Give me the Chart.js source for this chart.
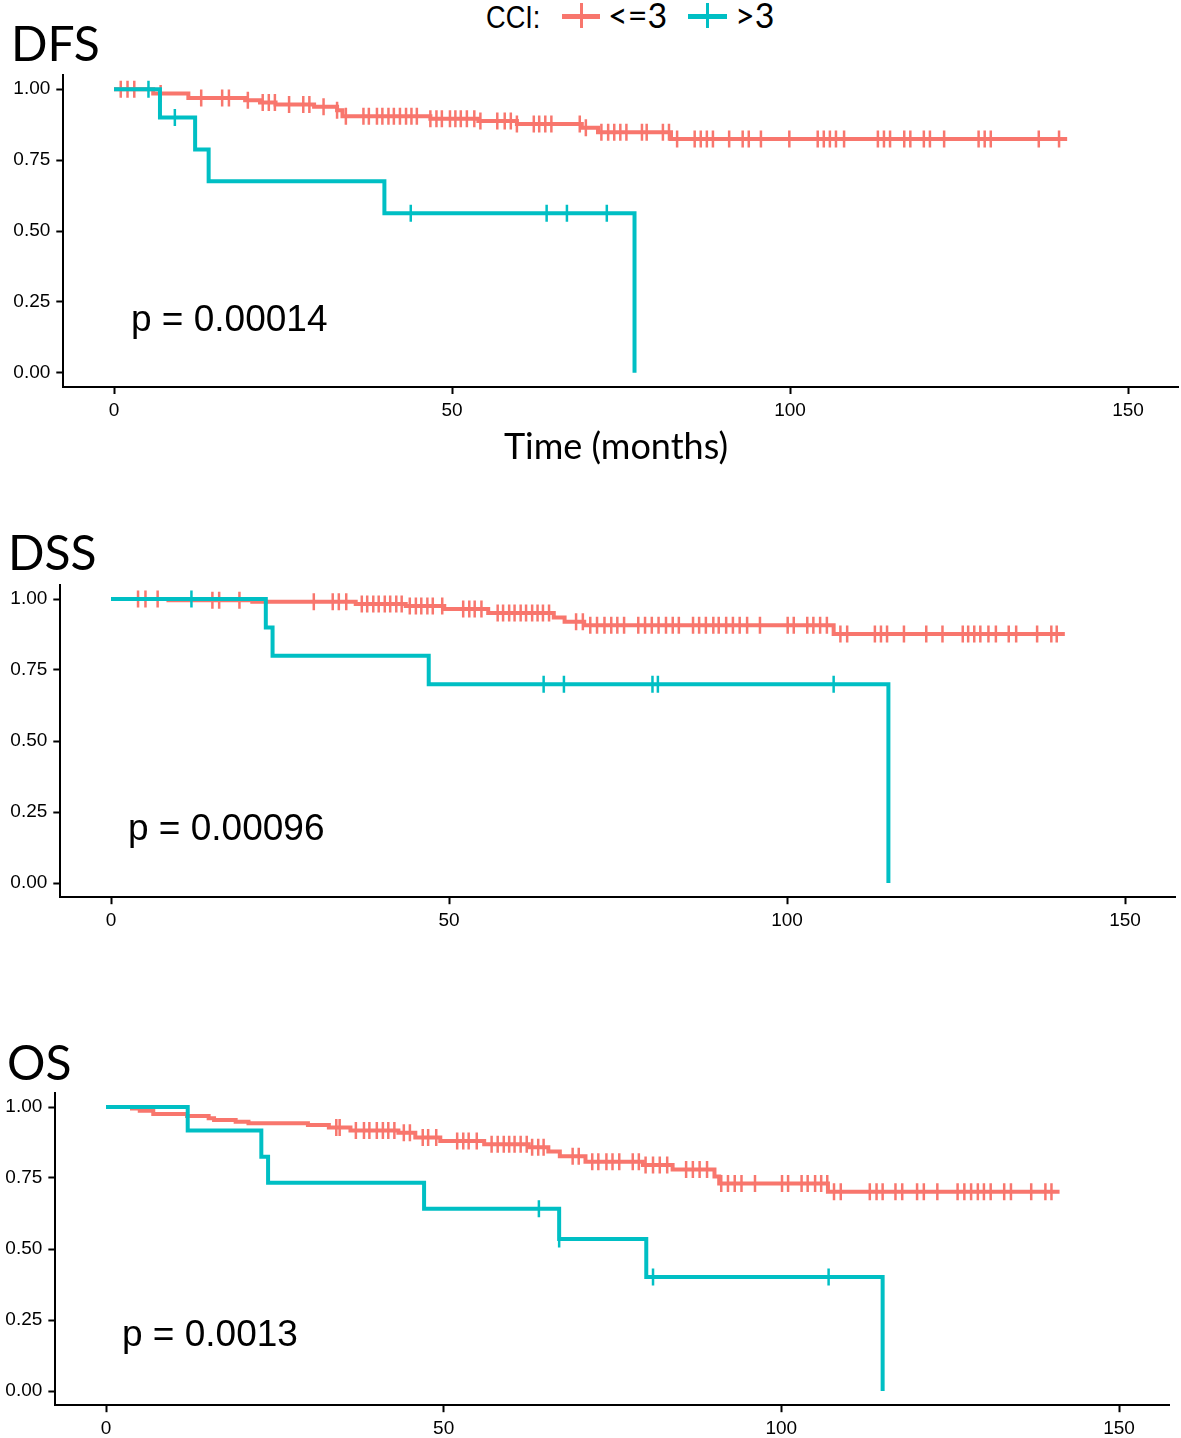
<!DOCTYPE html>
<html>
<head>
<meta charset="utf-8">
<title>DFS / DSS / OS by CCI</title>
<script src="https://cdn.jsdelivr.net/npm/chart.js@4.4.1/dist/chart.umd.min.js"></script>
<style>
  html, body { margin: 0; padding: 0; background: #fff; }
  #page { position: relative; width: 1181px; height: 1438px; overflow: hidden; background: #fff; }
  #page canvas { position: absolute; left: 0; }
  .lbl { position: absolute; white-space: nowrap; line-height: 1; color: #000; }
  .panel-title { font-family: Lato, sans-serif; font-size: 48px; }
  .pval { font-family: 'Liberation Sans', Arial, sans-serif; font-size: 37px; }
  .xtitle { font-family: Lato, sans-serif; font-size: 36px; width: 400px; text-align: center; }
  .leg-head { font-family: 'Liberation Sans', Arial, sans-serif; font-size: 32px; transform: scaleX(0.85); transform-origin: left top; }
  .leg-text { font-family: Lato, sans-serif; font-size: 34px; }
  .key { position: absolute; }
</style>
</head>
<body>
<div id="page">
  <canvas id="dfs-chart"></canvas>
  <canvas id="dss-chart"></canvas>
  <canvas id="os-chart"></canvas>

  <!-- legend -->
  <div class="lbl leg-head" style="left:486px; top:1px;">CCI:</div>
  <div class="key" style="left:562px; top:14px; width:38px; height:4.5px; background:#F8766D;"></div>
  <div class="key" style="left:580px; top:3px; width:2.5px; height:25px; background:#F8766D;"></div>
  <div class="lbl leg-text" style="left:608px; top:-2px;">&lt;=3</div>
  <div class="key" style="left:688px; top:14px; width:39px; height:4.5px; background:#00BFC4;"></div>
  <div class="key" style="left:706px; top:3px; width:2.5px; height:25px; background:#00BFC4;"></div>
  <div class="lbl leg-text" style="left:735px; top:-2px;">&gt;3</div>

  <!-- panel titles, p-values, axis title -->
  <div class="lbl panel-title" style="left:11px; top:19px;">DFS</div>
  <div class="lbl panel-title" style="left:8px; top:528px;">DSS</div>
  <div class="lbl panel-title" style="left:7px; top:1038px;">OS</div>
  <div class="lbl pval" style="left:131px; top:300px;">p = 0.00014</div>
  <div class="lbl pval" style="left:128px; top:809px;">p = 0.00096</div>
  <div class="lbl pval" style="left:122px; top:1315px;">p = 0.0013</div>
  <div class="lbl xtitle" style="left:416px; top:427px;">Time (months)</div>
</div>

<script>
// ----------------------
// Data
// ----------------------
const xTickValues = [0, 50, 100, 150];
const yTickValues = [0, 0.25, 0.5, 0.75, 1];
const groupNames = ['<=3', '>3'];

// DFS, CCI <= 3
const dfsLowTime = [0, 5.8, 11, 19.4, 21.6, 23.9, 29.6, 33, 33.8, 46.8, 53.9, 59.6, 69.2, 71.6, 82.4, 141];
const dfsLowSurv = [1, 0.985, 0.969, 0.961, 0.953, 0.946, 0.938, 0.926, 0.905, 0.896, 0.888, 0.877, 0.864, 0.848, 0.824, 0.824];
const dfsLowCensor = [1, 2, 3, 6.9, 12.9, 16, 17, 19.8, 22, 22.9, 23.8, 25.9, 28, 28.9, 31, 33, 34.3, 36.9, 37.7, 38.9,
    39.7, 40.6, 41.4, 42.3, 43.2, 44.0, 44.8, 46.8, 47.7, 48.5, 49.7, 50.5, 51.3, 52.2, 53.3, 54.2, 56.7, 57.8, 58.7,
    59.6, 62.1, 62.9, 63.8, 64.7, 68.9, 69.8, 72.1, 73.1, 74.0, 74.9, 75.8, 78.1, 78.8, 81.2, 82.1, 83.3, 85.9, 86.8,
    87.7, 88.6, 91.0, 93.0, 93.9, 95.7, 99.9, 104.1, 105.0, 105.9, 106.8, 108.0, 113.0, 113.9, 114.8, 116.9, 117.8,
    119.8, 120.7, 122.8, 127.9, 128.8, 129.7, 136.8, 139.8];
// DFS, CCI > 3
const dfsHighTime = [0, 6.8, 12, 14, 40, 77];
const dfsHighSurv = [1, 0.9, 0.7875, 0.675, 0.5625, 0];
const dfsHighCensor = [5.1, 9, 43.9, 64.0, 67.0, 72.9];

// DSS, CCI <= 3
const dssLowTime = [0, 8.5, 20.9, 36.2, 43.6, 49.3, 55.8, 65.5, 67.1, 70, 106.9, 141.1];
const dssLowSurv = [1, 0.996, 0.99, 0.982, 0.975, 0.965, 0.951, 0.935, 0.92, 0.908, 0.877, 0.877];
const dssLowCensor = [4.0, 5.1, 6.9, 15.0, 16.0, 19.0, 30.0, 32.8, 33.7, 34.8, 37.1, 37.9, 38.8, 39.6, 40.5, 41.3, 42.2,
    43.0, 44.2, 45.1, 45.9, 46.8, 47.6, 49.0, 52.1, 53.0, 53.8, 54.8, 57.2, 58.0, 58.9, 59.7, 60.6, 61.4, 62.3, 63.1,
    63.9, 64.8, 68.8, 69.8, 70.9, 71.9, 73.0, 74.0, 74.9, 75.9, 78.0, 79.0, 80.0, 81.0, 82.1, 83.1, 84.0, 86.1, 87.0,
    88.0, 89.1, 89.9, 91.0, 92.0, 93.0, 94.1, 96.0, 100.1, 101.0, 103.0, 103.9, 104.9, 105.9, 107.9, 108.9, 113.0,
    113.9, 114.8, 117.3, 120.6, 123.0, 126.0, 126.8, 127.7, 128.6, 129.8, 130.9, 132.8, 133.9, 137.0, 139.1, 139.9];
// DSS, CCI > 3
const dssHighTime = [0, 22.9, 23.9, 47, 115];
const dssHighSurv = [1, 0.9, 0.8, 0.7, 0];
const dssHighCensor = [11.9, 64.0, 67.0, 80.1, 80.9, 106.9];

// OS, CCI <= 3
const osLowTime = [0, 3.85, 5, 7, 12, 15.2, 16, 19.2, 21.1, 29.9, 33, 36.2, 43.3, 45.8, 49.5, 56, 62.6, 65.5, 67.2,
    71.0, 79.5, 83.9, 90.1, 90.8, 106.9, 141.2];
const osLowSurv = [1, 0.995, 0.987, 0.975, 0.968, 0.96, 0.954, 0.948, 0.943, 0.937, 0.928, 0.917, 0.909, 0.893, 0.88,
    0.869, 0.858, 0.843, 0.827, 0.807, 0.796, 0.78, 0.755, 0.731, 0.702, 0.702];
const osLowCensor = [34.1, 34.6, 37.0, 38.2, 39.0, 40.1, 41.0, 41.8, 42.7, 44.1, 45.0, 46.9, 47.7, 48.9, 52.0, 52.9,
    53.7, 54.9, 57.1, 58.0, 58.9, 59.7, 60.5, 61.4, 62.3, 63.1, 64.0, 64.8, 69.1, 70.0, 72.0, 72.9, 74.1, 75.0, 76.0,
    78.0, 78.9, 79.9, 81.0, 82.0, 83.1, 85.9, 86.9, 87.9, 89.0, 91.1, 92.1, 93.1, 94.1, 96.1, 100.1, 101.0, 103.0,
    103.9, 105.0, 105.9, 106.8, 107.8, 108.8, 113.1, 114.1, 115.0, 116.9, 117.9, 120.1, 121.1, 123.1, 126.1, 127.1,
    128.1, 129.1, 130.0, 131.0, 133.0, 134.0, 137.0, 139.1, 140.0];
// OS, CCI > 3
const osHighTime = [0, 12.1, 23, 24, 47.1, 67.1, 80, 115];
const osHighSurv = [1, 0.917, 0.825, 0.733, 0.642, 0.535, 0.401, 0];
const osHighCensor = [64.1, 67.1, 81.0, 107.0];

// ----------------------
// Styling / layout
// ----------------------
const colors = ['#F8766D', '#00BFC4'];
const tickFont = { family: "'Liberation Sans', Arial, sans-serif", size: 19 };

// where each plot area sits on the page
const panels = [
    { id: 'dfs-chart', top: 60, height: 372, padTop: 15, areaH: 312, areaL: 63.3, areaR: 1178.7,
      low: [dfsLowTime, dfsLowSurv, dfsLowCensor], high: [dfsHighTime, dfsHighSurv, dfsHighCensor] },
    { id: 'dss-chart', top: 570, height: 372, padTop: 14.8, areaH: 312.4, areaL: 60.3, areaR: 1175.7,
      low: [dssLowTime, dssLowSurv, dssLowCensor], high: [dssHighTime, dssHighSurv, dssHighCensor] },
    { id: 'os-chart', top: 1078, height: 360, padTop: 14.8, areaH: 312.4, areaL: 55.35, areaR: 1169.65,
      low: [osLowTime, osLowSurv, osLowCensor], high: [osHighTime, osHighSurv, osHighCensor] }
];

// survival value at time t (step function)
function survAt(times, surv, t) {
    let s = surv[0];
    for (let i = 0; i < times.length; i++) {
        if (times[i] <= t) s = surv[i];
    }
    return s;
}

function curveDatasets([times, surv, censor], color, label, order) {
    return [
        {
            label: label,
            data: times.map((t, i) => ({ x: t, y: surv[i] })),
            borderColor: color,
            borderWidth: 4,
            stepped: true,
            pointRadius: 0,
            fill: false,
            order: order
        },
        {
            label: label + ' censored',
            data: censor.map(t => ({ x: t, y: survAt(times, surv, t) })),
            showLine: false,
            pointStyle: 'line',
            pointRotation: 90,
            pointRadius: 8.5,
            pointBorderWidth: 2.5,
            pointBorderColor: color,
            borderColor: color,
            order: order
        }
    ];
}

// ----------------------
// Chart rendering
// ----------------------
function buildPanel(p) {
    const canvas = document.getElementById(p.id);
    canvas.width = 1181;
    canvas.height = p.height;
    canvas.style.top = p.top + 'px';

    new Chart(canvas.getContext('2d'), {
        type: 'line',
        data: {
            datasets: [
                ...curveDatasets(p.high, colors[1], groupNames[1], 0), // teal drawn on top
                ...curveDatasets(p.low, colors[0], groupNames[0], 1)
            ]
        },
        options: {
            responsive: false,
            animation: false,
            events: [],
            layout: {
                autoPadding: false, // otherwise the censor marks push the plot edge in
                padding: { top: p.padTop, right: 1181 - p.areaR, left: 0, bottom: 0 }
            },
            plugins: { legend: { display: false }, tooltip: { enabled: false } },
            scales: {
                x: {
                    type: 'linear',
                    min: -7.5,
                    max: 157.5,
                    afterBuildTicks: s => { s.ticks = xTickValues.map(v => ({ value: v })); },
                    afterFit: s => {
                        s.height = p.height - p.padTop - p.areaH;
                        s.paddingLeft = 0;
                        s.paddingRight = 0;
                    },
                    grid: { drawOnChartArea: false, drawTicks: true, tickLength: 7, tickWidth: 2, color: '#000' },
                    border: { color: '#000', width: 2 },
                    ticks: { font: tickFont, color: '#000', padding: 5, maxRotation: 0 }
                },
                y: {
                    min: -0.05,
                    max: 1.05,
                    afterBuildTicks: s => { s.ticks = yTickValues.map(v => ({ value: v })); },
                    afterFit: s => {
                        s.width = p.areaL;
                        s.paddingTop = 0;
                        s.paddingBottom = 0;
                    },
                    grid: { drawOnChartArea: false, drawTicks: true, tickLength: 7, tickWidth: 2, color: '#000' },
                    border: { color: '#000', width: 2 },
                    ticks: { font: tickFont, color: '#000', padding: 6, callback: v => v.toFixed(2) }
                }
            }
        }
    });
}

panels.forEach(buildPanel);
</script>
</body>
</html>
